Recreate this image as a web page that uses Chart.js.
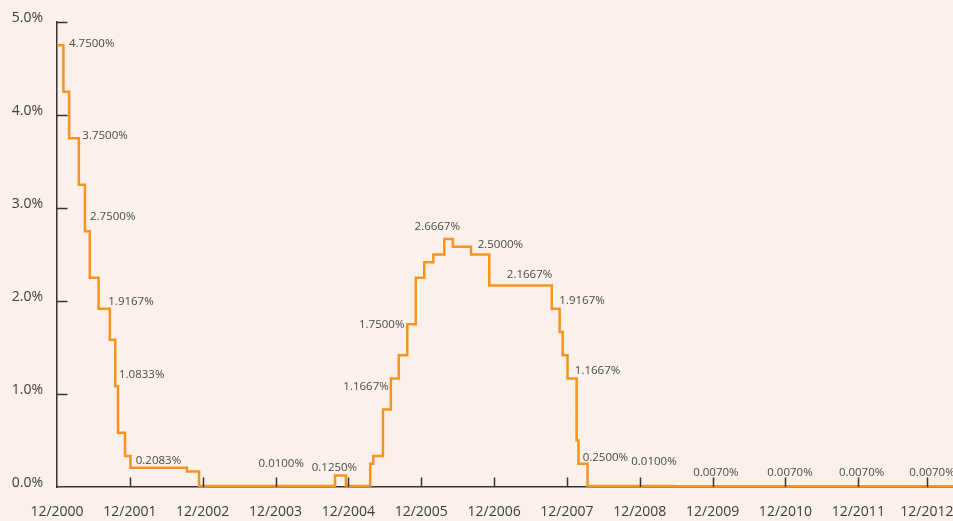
<!DOCTYPE html>
<html><head><meta charset="utf-8">
<script src="https://cdn.jsdelivr.net/npm/chart.js@4/dist/chart.umd.min.js"></script>
<style>
html,body{margin:0;padding:0;background:#FBF0EA;}
#wrap{position:relative;width:953px;height:521px;}
</style></head><body>
<div id="wrap"><canvas id="c" width="953" height="521"></canvas></div>
<script>
// Months since 12/2000 at which the rate changes, and the new rate (%)
const changeMonths = [0, 1.05, 2.0, 3.6, 4.6, 5.4, 6.85, 8.7, 9.6, 10.05, 11.2, 12.1, 21.4, 23.4,
  45.8, 47.6, 51.6, 52.1, 53.7, 55.0, 56.3, 57.7, 59.1, 60.5, 62.0, 63.8, 65.2, 68.2, 71.2,
  81.5, 82.8, 83.3, 84.1, 85.6, 85.9, 87.4, 101.5, 147.6];
const rates = [4.75, 4.25, 3.75, 3.25, 2.75, 2.25, 1.9167, 1.5833, 1.0833, 0.5833, 0.3333, 0.2083, 0.1667, 0.01,
  0.125, 0.01, 0.25, 0.3333, 0.8333, 1.1667, 1.4167, 1.75, 2.25, 2.4167, 2.5, 2.6667, 2.5833, 2.5, 2.1667,
  1.9167, 1.6667, 1.4167, 1.1667, 0.5, 0.25, 0.01, 0.007, 0.007];

// x-axis ticks (months since 12/2000) and labels
const tickMonths = [0, 12, 24, 36, 48, 60, 72, 84, 96, 108, 120, 132, 143.3];
const tickLabels = ['12/2000','12/2001','12/2002','12/2003','12/2004','12/2005','12/2006',
  '12/2007','12/2008','12/2009','12/2010','12/2011','12/2012'];
const yTicks = [0, 1, 2, 3, 4, 5];

// value annotations: text and anchor (month, rate level) of the label's left-middle
const labelTexts = ['4.7500%','3.7500%','2.7500%','1.9167%','1.0833%','0.2083%','0.0100%','0.1250%',
  '1.1667%','1.7500%','2.6667%','2.5000%','2.1667%','1.9167%','1.1667%','0.2500%','0.0100%',
  '0.0070%','0.0070%','0.0070%','0.0070%'];
const labelMonths = [1.98, 4.17, 5.44, 8.45, 10.21, 12.97, 33.2, 41.96, 47.17, 49.75, 58.9, 69.3, 74.1,
  82.75, 85.3, 86.6, 94.6, 104.8, 117.0, 128.8, 140.4];
const labelLevels = [4.77, 3.774, 2.906, 1.992, 1.212, 0.283, 0.247, 0.212, 1.078, 1.742, 2.799, 2.61, 2.28,
  2.003, 1.247, 0.315, 0.272, 0.158, 0.158, 0.158, 0.158];

const axisColor = '#333333';
const points = changeMonths.map((m, i) => ({x: m, y: rates[i]}));

const decorPlugin = {
  id: 'decor',
  afterDatasetsDraw(chart) {
    const {ctx, scales: {x, y}, chartArea} = chart;
    ctx.save();
    // inward tick marks
    ctx.strokeStyle = axisColor;
    ctx.lineWidth = 1.5;
    yTicks.forEach(v => {
      if (v === 0) return;
      const py = Math.round(y.getPixelForValue(v)) + 0.5;
      ctx.beginPath(); ctx.moveTo(chartArea.left, py); ctx.lineTo(chartArea.left + 10.5, py); ctx.stroke();
    });
    tickMonths.forEach(m => {
      if (m === 0) return;
      const px = Math.round(x.getPixelForValue(m)) + 0.5;
      ctx.beginPath(); ctx.moveTo(px, chartArea.bottom); ctx.lineTo(px, chartArea.bottom - 9.5); ctx.stroke();
    });
    // value labels
    ctx.font = '11.5px "Open Sans"';
    ctx.fillStyle = '#4a4a4a';
    ctx.textAlign = 'left';
    ctx.textBaseline = 'middle';
    labelTexts.forEach((t, i) => {
      ctx.fillText(t, x.getPixelForValue(labelMonths[i]), y.getPixelForValue(labelLevels[i]));
    });
    ctx.restore();
  }
};

new Chart(document.getElementById('c'), {
  type: 'line',
  data: { datasets: [{
    data: points, stepped: 'before', borderColor: '#F7941E', borderWidth: 2.5,
    pointRadius: 0, fill: false, tension: 0
  }]},
  options: {
    responsive: false, animation: false, devicePixelRatio: 1,
    layout: { padding: { top: 22, right: 0, left: 0, bottom: 0 } },
    plugins: { legend: { display: false }, tooltip: { enabled: false } },
    scales: {
      x: {
        type: 'linear', min: 0, max: 147.6,
        afterBuildTicks(s) { s.ticks = tickMonths.map(v => ({value: v})); },
        afterFit(s) { s.height = 34; s.paddingLeft = 0; s.paddingRight = 0; },
        ticks: { callback: (v, i) => tickLabels[i], font: { family: 'Open Sans', size: 14 },
          color: '#3d3d3d', padding: 17, maxRotation: 0, autoSkip: false },
        grid: { display: false, drawTicks: false },
        border: { display: true, color: axisColor, width: 1.5 }
      },
      y: {
        min: 0, max: 5,
        afterBuildTicks(s) { s.ticks = yTicks.map(v => ({value: v})); },
        afterFit(s) { s.width = 57; s.paddingTop = 0; s.paddingBottom = 0; },
        ticks: { callback: v => v.toFixed(1) + '%', font: { family: 'Open Sans', size: 14 },
          color: '#3d3d3d', padding: 14, labelOffset: -4 },
        grid: { display: false, drawTicks: false },
        border: { display: true, color: axisColor, width: 1.5 }
      }
    }
  },
  plugins: [decorPlugin]
});
</script>
</body></html>
